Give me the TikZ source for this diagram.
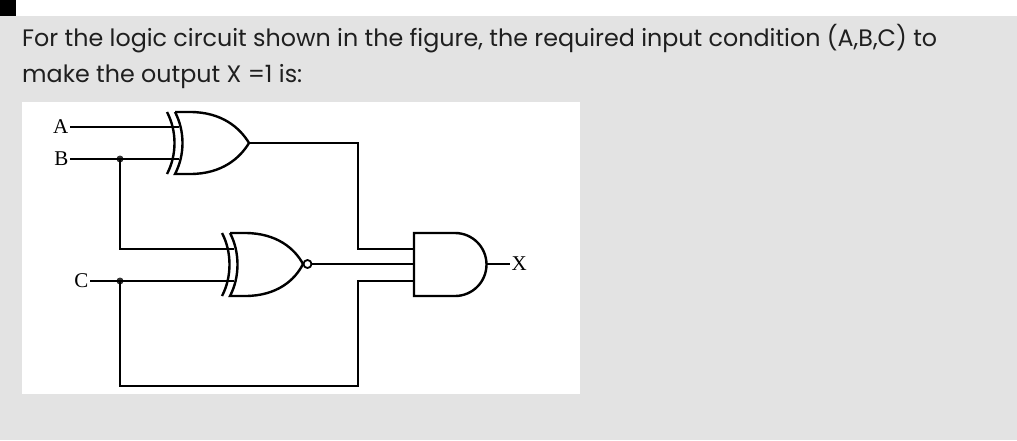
\documentclass[tikz,border=0pt]{standalone}
\usepackage{fontspec}
\setmainfont{Poppins}
\newfontfamily\lblfont{Liberation Serif}
\begin{document}
\begin{tikzpicture}[x=1pt,y=-1pt,
  wire/.style={line width=2.4pt,line join=miter},
  gate/.style={line width=2.4pt,fill=white},
  lbl/.style={font=\lblfont\fontsize{21}{21}\selectfont,inner sep=1.5pt},
  dotn/.style={circle,fill=black!80,inner sep=0pt,minimum size=7pt}]
\useasboundingbox (0,0) rectangle (1017,440);
\fill[white] (0,0) rectangle (1017,16);
\fill[black] (0,0) rectangle (16,16);
\fill[gray!22] (0,16) rectangle (1017,440);
\node[anchor=base west,inner sep=0pt,text=black!88,font=\fontsize{23.8}{24}\selectfont] (t1) at (22,46) {For the logic circuit shown in the figure, the required input condition (A,B,C) to};
\node[anchor=base west,inner sep=0pt,text=black!88,font=\fontsize{23.8}{24}\selectfont] (t2) at (22,82) {make the output X =1 is:};
\fill[white] (22,102) rectangle (580,394);
% labels
\node[lbl,anchor=east] (A) at (70,127) {A};
\node[lbl,anchor=east] (B) at (70,159) {B};
\node[lbl,anchor=east] (C) at (90,281) {C};
\node[lbl,anchor=west] (X) at (510,264) {X};
% XOR gate
\draw[gate] (175,112) -- (190,112) .. controls (222,112) and (240,128) .. (249,143) .. controls (240,158) and (222,174) .. (190,174) -- (175,174) .. controls (185,155) and (185,131) .. (175,112);
\draw[wire] (167,112) .. controls (177,131) and (177,155) .. (167,174);
% XNOR gate
\draw[gate] (230,233) -- (245,233) .. controls (277,233) and (295,249) .. (303,264) .. controls (295,280) and (277,296) .. (245,296) -- (230,296) .. controls (240,277) and (240,252) .. (230,233);
\draw[wire] (222,233) .. controls (232,252) and (232,277) .. (222,296);
\node[circle,draw,line width=1.8pt,fill=white,minimum size=8pt,inner sep=0pt] (bub) at (307.5,264) {};
% AND gate
\draw[gate] (414,233) -- (455,233) arc[start angle=-90,end angle=90,radius=31.5] -- (414,296) -- cycle;
% nodes
\coordinate (xo) at (249,143);
\coordinate (dB) at (120,159);
\coordinate (dC) at (120,281);
\node[dotn] at (dB) {};
\node[dotn] at (dC) {};
% wires
\draw[wire] (A.east) -- (179,127);
\draw[wire] (B.east) -- (179,159);
\draw[wire] (xo) -- (358,143) -- (358,249) -- (414,249);
\draw[wire] (dB) -- (120,249) -- (234,249);
\draw[wire] (C.east) -- (234,281);
\draw[wire] (bub.east) -- (414,264);
\draw[wire] (dC) -- (120,386) -- (358,386) -- (358,281) -- (414,281);
\draw[wire] (486,264) -- (X.west);
\end{tikzpicture}
\end{document}
